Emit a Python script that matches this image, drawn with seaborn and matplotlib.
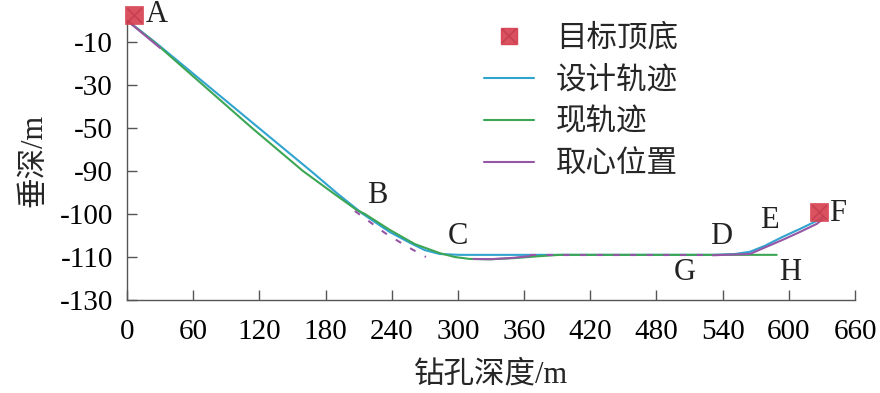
import numpy as np
import pandas as pd
import matplotlib
matplotlib.use('Agg')
import matplotlib.pyplot as plt
import seaborn as sns
from matplotlib.lines import Line2D

# 设计轨迹 (钻孔深度 m, 垂深 m)
design_x = [0, 25.2, 72.4, 119.5, 166.7, 191, 213.9, 238.3, 256.5, 270, 283.6, 301.8,
            531, 551, 564.6, 578.2, 594.5, 609.9, 625.3, 630.7]
design_y = [0, -10, -30, -50, -90, -95.3, -100, -104.2, -106.7, -108.4, -109.3, -109.5,
            -109.5, -109.3, -108.8, -107.4, -105.3, -103.5, -101.6, -100.7]

# 现轨迹
actual_x = [0, 24.5, 68.9, 113.3, 159.5, 186.7, 208.4, 215.7, 238.3,
            261, 283.6, 297.2, 310.8, 329, 351.6, 374.3, 392.4, 589]
actual_y = [0, -10, -30, -50, -90, -95.1, -99.1, -100, -103.7,
            -107, -109.1, -110, -110.9, -111.1, -110.5, -109.8, -109.5, -109.5]

# 取心位置 (几段)
core_solid = [
    ([0, 30], [0, -12.8]),
    ([314, 330, 350, 365], [-110.9, -111.0, -110.4, -109.8]),
    ([531, 564.6, 594.5, 609.9, 625.3, 630.7], [-109.6, -109.3, -106.0, -104.2, -102.3, -101.2]),
]
core_dashed = [
    ([206.6, 233.8, 252.8, 271], [-99.3, -104.4, -107.4, -110]),
    ([365, 531], [-109.6, -109.6]),
]

# 目标顶底
target_x = [6, 627]
target_y = [2.5, -99.5]

point_names = ['A', 'B', 'C', 'D', 'E', 'F', 'G', 'H']
point_x = [27, 226.5, 300, 539, 582.7, 644, 505.7, 601]
point_y = [2.6, -95.6, -105.3, -105.3, -101.4, -99.8, -117, -117]

ytick_vals = [-130, -110, -100, -90, -50, -30, -10]
xtick_vals = list(range(0, 661, 60))

# 纵轴刻度等间距排列
scale_vals = [-150, -130, -110, -100, -90, -50, -30, -10, 0, 20]
scale_pos = [-1, 0, 1, 2, 3, 4, 5, 6, 6.5, 7.5]

def fwd(y):
    return np.interp(y, scale_vals, scale_pos)

def inv(p):
    return np.interp(p, scale_pos, scale_vals)

c_target = '#d63e4e'
c_design = '#30a3cf'
c_actual = '#3da655'
c_core = '#9656a6'

sns.set_theme(style='ticks')
plt.rcParams['font.family'] = ['Liberation Serif', 'Noto Sans CJK SC']
plt.rcParams['axes.unicode_minus'] = False

fig, ax = plt.subplots(figsize=(8.8, 3.93), dpi=100)
fig.subplots_adjust(left=0.1443, right=0.9716, bottom=0.2366, top=0.948)

sns.lineplot(x=design_x, y=design_y, sort=False, color=c_design, linewidth=1.5, ax=ax)
sns.lineplot(x=actual_x, y=actual_y, sort=False, color=c_actual, linewidth=1.5, ax=ax)
for xs, ys in core_solid:
    sns.lineplot(x=xs, y=ys, sort=False, color=c_core, linewidth=1.5, ax=ax)
for xs, ys in core_dashed:
    sns.lineplot(x=xs, y=ys, sort=False, color=c_core, linewidth=1.5,
                 linestyle=(0, (3, 5)), ax=ax)
sns.scatterplot(x=target_x, y=target_y, marker='s', s=150, color=c_target, alpha=0.9,
                edgecolor=c_target, linewidth=0.5, zorder=5, clip_on=False, ax=ax)
sns.scatterplot(x=target_x, y=target_y, marker='x', s=110, color='#b8364a', alpha=0.6,
                linewidth=1.2, zorder=6, clip_on=False, ax=ax)

for name, px, py in zip(point_names, point_x, point_y):
    ax.text(px, py, name, fontsize=22, ha='center', va='center', color='#222222')

ax.set_yscale('function', functions=(fwd, inv))
ax.set_xlim(0, 660)
ax.set_ylim(-130, 0)
ax.set_yticks(ytick_vals)
ax.set_yticklabels([str(v) for v in ytick_vals])
ax.set_xticks(xtick_vals)
ax.set_xticklabels([str(v) for v in xtick_vals])
ax.minorticks_off()

for side in ['top', 'right']:
    ax.spines[side].set_visible(False)
for side in ['left', 'bottom']:
    ax.spines[side].set_color('#555555')
    ax.spines[side].set_linewidth(1.0)
ax.tick_params(axis='both', direction='in', length=7, width=1, color='#555555',
               labelsize=21, labelcolor='black')
ax.tick_params(axis='x', pad=14)
ax.tick_params(axis='y', pad=10)

ax.set_xlabel('钻孔深度/m', fontsize=22, labelpad=11)
ax.set_ylabel('垂深/m', fontsize=22, labelpad=8)

sq = Line2D([], [], marker='s', color=c_target, markersize=11, linestyle='none', alpha=0.9)
xx = Line2D([], [], marker='x', color='#b8364a', markersize=10, markeredgewidth=1.2,
            linestyle='none', alpha=0.6)
handles = [
    (sq, xx),
    Line2D([], [], color=c_design, linewidth=1.5),
    Line2D([], [], color=c_actual, linewidth=1.5),
    Line2D([], [], color=c_core, linewidth=1.5),
]
labels = ['目标顶底', '设计轨迹', '现轨迹', '取心位置']
fig.legend(handles, labels, loc='upper left', bbox_to_anchor=(484 / 880, 0.937),
           frameon=False, fontsize=22, handlelength=1.65, handletextpad=0.7,
           labelspacing=0.42, borderpad=0, borderaxespad=0)

fig.savefig('out.png', dpi=100)
